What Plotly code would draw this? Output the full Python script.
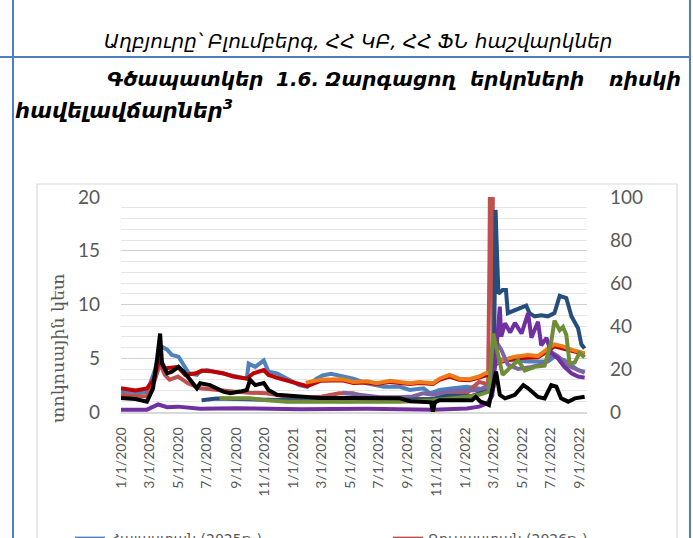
import plotly.graph_objects as go

# ---------------- data (left-axis units, percentage points) ----------------
arm_dates = ["2020-01-01","2020-02-25","2020-03-13","2020-03-27","2020-04-08","2020-04-18","2020-05-02","2020-05-13","2020-05-24","2020-06-10",
             "2020-06-17","2020-07-01","2020-08-01","2020-09-24","2020-09-28","2020-10-12","2020-10-30","2020-11-09","2020-11-27","2020-12-18",
             "2021-01-13","2021-01-30","2021-02-19","2021-03-04","2021-03-22","2021-05-08","2021-06-06","2021-07-12","2021-08-15","2021-09-05",
             "2021-10-04","2021-10-18","2021-11-07","2021-12-06","2022-01-04","2022-02-13","2022-03-01","2022-03-05","2022-03-15","2022-04-16",
             "2022-05-14","2022-06-25","2022-07-09","2022-07-30","2022-08-28","2022-09-11"]
arm_vals = [1.9,1.85,3.9,6.1,5.8,5.3,5.15,4.4,3.6,3.45,
            3.75,3.9,3.6,3.1,4.5,4.2,4.8,3.75,3.6,3.1,
            2.5,2.35,3.1,3.4,3.55,3.1,2.67,2.35,2.35,2.05,
            2.2,1.74,2.05,2.2,2.35,2.1,2.3,5.0,4.9,4.8,
            4.7,4.7,5.15,4.8,3.9,3.75]

rus_dates = ["2020-01-01","2020-02-25","2020-03-13","2020-03-24","2020-04-03","2020-04-13","2020-05-01","2020-05-22","2020-06-17","2020-07-15",
             "2020-08-26","2020-10-01","2020-11-05","2020-12-18","2021-01-16","2021-03-01","2021-04-08","2021-05-08","2021-06-06","2021-08-15",
             "2021-10-24","2021-11-28","2022-01-04","2022-01-18","2022-01-30","2022-02-10","2022-02-18","2022-02-21","2022-02-24","2022-02-27",
             "2022-03-01"]
rus_vals = [1.6,1.45,3.0,4.5,3.45,3.0,3.3,2.67,2.2,2.05,
            1.9,1.8,1.74,1.42,1.27,1.42,1.74,1.74,1.3,1.2,
            1.2,1.6,1.74,2.35,2.8,2.67,2.6,14,35,35,
            6]

s3_dates = ["2020-01-01","2020-02-01","2020-02-25","2020-03-10","2020-03-20","2020-03-24","2020-04-03","2020-05-01","2020-05-16","2020-06-08",
            "2020-06-21","2020-07-08","2020-08-05","2020-08-26","2020-09-24","2020-10-08","2020-10-30","2020-11-09","2020-12-03","2020-12-28",
            "2021-01-16","2021-01-30","2021-02-27","2021-04-15","2021-05-08","2021-06-06","2021-06-27","2021-07-25","2021-08-15","2021-09-05",
            "2021-09-26","2021-10-24","2021-11-07","2021-11-28","2021-12-19","2022-01-09","2022-01-30","2022-02-13","2022-02-27","2022-03-05",
            "2022-03-12","2022-04-16","2022-05-14","2022-06-04","2022-06-25","2022-07-09","2022-07-27","2022-08-14","2022-09-11"]
s3_vals = [2.2,2.0,2.2,3.0,4.5,5.0,4.05,4.2,3.45,3.6,
           3.85,3.8,3.6,3.3,3.1,3.6,3.9,3.45,3.1,2.8,
           2.5,2.4,2.9,2.95,2.7,2.75,2.6,2.8,2.7,2.6,
           2.7,2.6,3.0,3.3,3.0,2.95,3.2,3.45,3.6,4.4,
           4.6,5.0,5.1,5.1,5.7,6.1,5.9,5.7,5.4]

s4_dates = ["2021-01-27","2021-02-27","2021-04-15","2021-05-08","2021-06-06","2021-06-27","2021-07-25","2021-08-15","2021-09-05","2021-09-26",
            "2021-10-24","2021-11-07","2021-11-28","2021-12-19","2022-01-09","2022-01-30","2022-02-13","2022-02-27","2022-03-05","2022-03-12",
            "2022-04-16","2022-05-14","2022-06-04","2022-06-25","2022-07-09","2022-07-27","2022-08-14","2022-09-11"]
s4_vals = [2.73,3.0,3.05,2.8,2.85,2.67,2.9,2.8,2.67,2.8,
           2.67,3.1,3.45,3.1,3.05,3.3,3.6,3.7,4.5,4.7,
           5.15,5.3,5.2,5.9,6.3,6.1,5.8,5.45]

s5_dates = ["2021-04-15","2021-05-08","2021-06-06","2021-07-04","2021-08-15","2021-09-11","2021-10-03","2021-10-24","2021-11-28","2022-01-04",
            "2022-01-30","2022-02-13","2022-02-27","2022-03-08","2022-03-18","2022-04-01","2022-04-23","2022-05-21","2022-06-18","2022-07-05",
            "2022-07-16","2022-08-07","2022-08-28","2022-09-11"]
s5_vals = [1.8,1.67,1.5,1.37,1.37,1.45,1.74,1.6,1.9,1.95,
           2.05,2.35,2.5,6.5,5.8,4.4,4.0,4.2,4.5,5.5,
           5.2,4.3,3.85,3.65]

s6_dates = ["2020-06-20","2020-07-22","2020-09-01","2020-11-01","2021-01-01","2021-03-01","2021-05-01","2021-07-12","2021-09-05","2021-10-24",
            "2021-11-21","2022-01-15","2022-01-30","2022-02-13","2022-02-28","2022-03-02","2022-03-06","2022-03-08","2022-03-12","2022-03-21",
            "2022-03-28","2022-04-01","2022-04-16","2022-04-30","2022-05-10","2022-05-17","2022-05-28","2022-06-11","2022-06-25","2022-07-09",
            "2022-07-20","2022-08-03","2022-08-14","2022-08-28","2022-09-04","2022-09-11"]
s6_vals = [1.1,1.25,1.2,1.15,1.1,1.0,1.0,1.1,1.2,1.2,
           1.5,1.5,1.74,1.9,2.05,2.4,18.8,16.0,11.0,11.35,
           11.35,9.2,9.5,9.8,9.9,9.2,8.9,9.0,8.9,9.2,
           10.8,10.6,8.9,7.8,6.3,5.9]

s7_dates = ["2020-01-01","2020-02-25","2020-03-20","2020-04-08","2020-05-01","2020-06-17","2020-09-01","2021-01-16","2021-06-06","2021-10-24",
            "2022-01-04","2022-01-30","2022-02-16","2022-02-27","2022-03-08","2022-03-15","2022-03-18","2022-03-26","2022-04-06","2022-04-16",
            "2022-04-23","2022-04-30","2022-05-14","2022-05-21","2022-06-04","2022-06-11","2022-06-22","2022-07-02","2022-07-16","2022-07-30",
            "2022-08-14","2022-08-28","2022-09-11"]
s7_vals = [0.22,0.22,0.7,0.45,0.5,0.3,0.35,0.25,0.3,0.22,
           0.33,0.5,0.8,1.5,6.0,9.8,7.0,8.25,7.4,8.3,
           7.8,7.3,9.2,6.9,8.4,6.2,6.9,5.5,5.0,4.2,
           3.6,3.3,3.2]

s8_dates = ["2020-07-28","2020-09-01","2020-10-01","2020-11-05","2020-12-18","2021-03-01","2021-06-06","2021-08-15","2021-10-24","2021-12-06",
            "2022-01-04","2022-01-30","2022-02-20","2022-03-01","2022-03-08","2022-03-15","2022-03-21","2022-04-05","2022-04-23","2022-05-07",
            "2022-05-28","2022-06-18","2022-07-02","2022-07-09","2022-07-20","2022-07-27","2022-08-03","2022-08-10","2022-08-21","2022-08-31",
            "2022-09-11"]
s8_vals = [1.27,1.25,1.27,1.1,0.96,0.96,0.96,0.96,1.1,1.27,
           1.42,1.6,1.9,7.3,5.8,4.3,3.45,4.1,4.8,3.85,
           4.2,4.3,6.5,8.5,7.6,7.9,7.2,4.5,4.6,5.5,
           5.1]

s9_dates = ["2020-01-01","2020-02-01","2020-02-25","2020-03-09","2020-03-18","2020-03-24","2020-03-28","2020-04-08","2020-04-18","2020-05-02",
            "2020-05-13","2020-05-27","2020-06-10","2020-06-17","2020-07-08","2020-08-05","2020-08-20","2020-09-10","2020-09-24","2020-10-01",
            "2020-10-12","2020-10-30","2020-11-09","2020-11-27","2021-01-16","2021-02-27","2021-05-01","2021-07-04","2021-08-15","2021-09-06",
            "2021-10-01","2021-10-20","2021-10-24","2021-10-28","2021-11-07","2022-01-15","2022-01-23","2022-02-02","2022-02-13","2022-02-20",
            "2022-03-07","2022-03-15","2022-03-26","2022-04-16","2022-05-04","2022-05-14","2022-06-04","2022-06-18","2022-07-02","2022-07-13",
            "2022-07-23","2022-08-07","2022-08-21","2022-09-11"]
s9_vals = [1.3,1.2,0.96,2.2,5.1,7.3,4.5,3.6,3.75,4.2,
           3.75,3.0,2.2,2.67,2.5,1.9,1.74,1.9,2.05,3.0,
           2.5,2.7,2.05,1.6,1.4,1.3,1.3,1.25,1.27,1.0,
           0.96,0.9,0.0,0.9,1.1,1.1,1.4,0.96,0.8,0.65,
           3.75,1.6,1.27,1.6,2.5,2.2,1.4,1.27,2.5,2.35,
           1.27,0.96,1.27,1.42]

left_ticks = [0, 5, 10, 15, 20]
right_ticks = [0, 20, 40, 60, 80, 100]
x_range = ["2020-01-01", "2022-09-16"]

series = [
    ("Հայաստան (2025թ.)", arm_dates, arm_vals, "#4F81BD", "legend"),
    ("Ռուսաստան (2026թ.)", rus_dates, rus_vals, "#C0504D", "legend2"),
    ("Շարք 3", s3_dates, s3_vals, "#C00000", None),
    ("Շարք 4", s4_dates, s4_vals, "#EE7A1A", None),
    ("Շարք 5", s5_dates, s5_vals, "#8064A2", None),
    ("Շարք 6", s6_dates, s6_vals, "#254E7D", None),
    ("Շարք 7", s7_dates, s7_vals, "#7030A0", None),
    ("Շարք 8", s8_dates, s8_vals, "#6F8C36", None),
    ("Շարք 9", s9_dates, s9_vals, "#000000", None),
]

# ---------------- layout helpers (page pixels -> paper coords) ----------------
W, H = 693, 538
PL, PR, PT, PB = 121, 587, 197, 412
def px(X):
    return (X - PL) / (PR - PL)
def py(Y):
    return (PB - Y) / (PB - PT)

fig = go.Figure()
for name, d, v, c, leg in series:
    kw = dict(showlegend=False) if leg is None else dict(showlegend=True, legend=leg)
    fig.add_trace(go.Scatter(x=d, y=v, name=name, mode="lines",
                             line=dict(color=c, width=4), **kw))
# right axis carrier (invisible)
fig.add_trace(go.Scatter(x=[x_range[0], x_range[1]], y=[0, 100], yaxis="y2", mode="lines",
                         line=dict(width=0), showlegend=False, hoverinfo="skip"))

tick_font = dict(family="Lato", size=19, color="#595959")
leg_font = dict(family="DejaVu Sans", size=14, color="#595959")
fig.update_layout(
    width=W, height=H,
    margin=dict(l=PL, r=W - PR, t=PT, b=H - PB, autoexpand=False),
    paper_bgcolor="white", plot_bgcolor="white",
    xaxis=dict(type="date", range=x_range, dtick="M2", tick0="2020-01-01",
               tickformat="%-m/%-d/%Y", tickangle=-90, showgrid=False,
               showline=True, linecolor="#D9D9D9", linewidth=1.5,
               tickfont=dict(family="Lato", size=14, color="#595959"),
               ticks="", ticklabelstandoff=8, fixedrange=True),
    yaxis=dict(range=[0, 20], tickvals=left_ticks, showgrid=True, gridcolor="#D0D0D0", gridwidth=1.2,
               minor=dict(dtick=1, showgrid=True, gridcolor="#E6E6E6", gridwidth=1.2),
               zeroline=False, tickfont=tick_font, ticklabelstandoff=20, ticks=""),
    yaxis2=dict(range=[0, 100], tickvals=right_ticks, overlaying="y", side="right",
                showgrid=False, zeroline=False, tickfont=tick_font, ticklabelstandoff=22, ticks=""),
    legend=dict(orientation="h", x=px(70), y=py(523), xanchor="left", yanchor="top",
                font=leg_font, bgcolor="rgba(0,0,0,0)"),
    legend2=dict(orientation="h", x=px(388), y=py(523), xanchor="left", yanchor="top",
                 font=leg_font, bgcolor="rgba(0,0,0,0)"),
    showlegend=True,
)

blue = "#4F7FC0"
shapes = [
    dict(type="rect", xref="paper", yref="paper", x0=px(37), x1=px(677), y0=py(184), y1=py(570),
         line=dict(color="#D9D9D9", width=1.2), layer="below"),
    dict(type="line", xref="paper", yref="paper", x0=px(13), x1=px(13), y0=py(0), y1=py(540),
         line=dict(color=blue, width=2)),
    dict(type="line", xref="paper", yref="paper", x0=px(690), x1=px(690), y0=py(0), y1=py(540),
         line=dict(color=blue, width=2)),
    dict(type="line", xref="paper", yref="paper", x0=px(0), x1=px(690), y0=py(57), y1=py(57),
         line=dict(color=blue, width=2)),
]
fig.update_layout(shapes=shapes)

arm_font = "DejaVu Sans"
ann = []
ann.append(dict(text="Աղբյուրը՝ Բլումբերգ, ՀՀ ԿԲ, ՀՀ ՖՆ հաշվարկներ", x=px(358), y=py(41),
                xref="paper", yref="paper", xanchor="center", yanchor="middle", showarrow=False,
                font=dict(family=arm_font, size=20, color="black", style="italic")))
# justified first caption line: words centred on their positions in the reference
words = [("Գծապատկեր", 185), ("1.6.", 297), ("Զարգացող", 391), ("երկրների", 527), ("ռիսկի", 645)]
for w, X in words:
    ann.append(dict(text=w, x=px(X), y=py(79), xref="paper", yref="paper", xanchor="center",
                    yanchor="middle", showarrow=False,
                    font=dict(family=arm_font, size=20, color="black", style="italic", weight="bold")))
ann.append(dict(text="հավելավճարներ<sup>3</sup>", x=px(13), y=py(109), xref="paper", yref="paper",
                xanchor="left", yanchor="middle", showarrow=False,
                font=dict(family=arm_font, size=21, color="black", style="italic", weight="bold")))
ann.append(dict(text="տոկոսային կետ", x=px(58), y=py(348), xref="paper", yref="paper",
                xanchor="center", yanchor="middle", textangle=-90, showarrow=False,
                font=dict(family="DejaVu Serif", size=17.5, color="#595959")))
fig.update_layout(annotations=ann)

fig.write_html("out.html", config={"displayModeBar": False},
               post_script="document.body.style.margin='0px';document.body.style.overflow='hidden';")
